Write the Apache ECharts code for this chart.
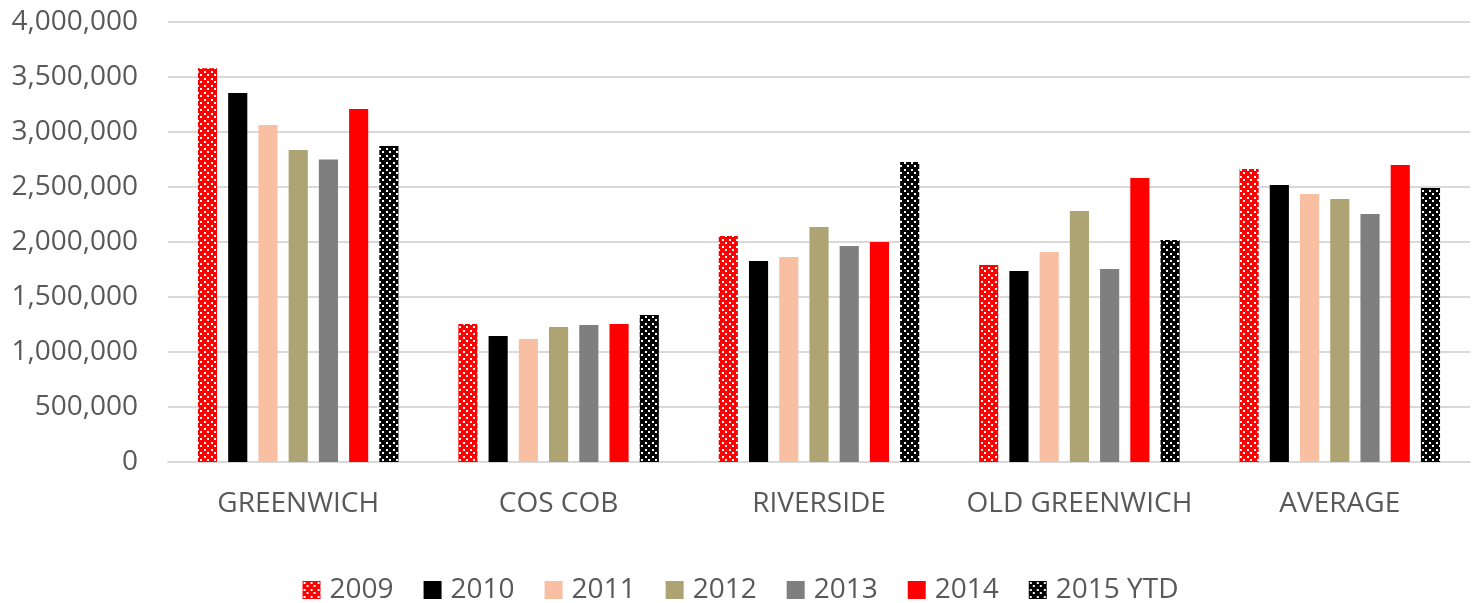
<!DOCTYPE html>
<html>
<head>
<meta charset="utf-8">
<script src="https://cdn.jsdelivr.net/npm/echarts@6/dist/echarts.min.js"></script>
<style>
  html, body { margin: 0; padding: 0; background: #fff; }
  #chart { width: 1481px; height: 603px; }
</style>
</head>
<body>
<div id="chart"></div>
<script>
const categories = ['GREENWICH', 'COS COB', 'RIVERSIDE', 'OLD GREENWICH', 'AVERAGE']
const years = ['2009', '2010', '2011', '2012', '2013', '2014', '2015 YTD']
const values2009 = [3580000, 1255000, 2055000, 1790000, 2664000]
const values2010 = [3355000, 1145000, 1827000, 1736000, 2518000]
const values2011 = [3064000, 1118000, 1864000, 1909000, 2436000]
const values2012 = [2836000, 1227000, 2136000, 2282000, 2391000]
const values2013 = [2750000, 1245000, 1964000, 1755000, 2255000]
const values2014 = [3209000, 1255000, 2000000, 2582000, 2700000]
const values2015 = [2873000, 1336000, 2727000, 2018000, 2490000]

// dotted fill like the Excel pattern
const dotPattern = function (bg) {
  const c = document.createElement('canvas')
  c.width = 7
  c.height = 7
  const ctx = c.getContext('2d')
  ctx.fillStyle = bg
  ctx.fillRect(0, 0, 7, 7)
  ctx.fillStyle = '#ffffff'
  ctx.fillRect(1, 1, 2, 2)
  ctx.fillRect(4, 4, 2, 2)
  return { image: c, repeat: 'repeat' }
}

const colors = [
  dotPattern('#ff0000'),
  '#000000',
  '#f8bfa3',
  '#ada373',
  '#7f7f7f',
  '#ff0000',
  dotPattern('#000000')
]
const seriesData = [values2009, values2010, values2011, values2012, values2013, values2014, values2015]

const textFont = 'Open Sans'
const series = years.map(function (y, i) {
  return {
    name: y,
    type: 'bar',
    barGap: '58%',
    barCategoryGap: '23%',
    itemStyle: { color: colors[i] },
    data: seriesData[i]
  }
})

const chart = echarts.init(document.getElementById('chart'))
chart.setOption({
  animation: false,
  grid: { left: 168, right: 11, top: 22, bottom: 141 },
  legend: {
    top: 576,
    left: 'center',
    padding: 0,
    itemWidth: 18,
    itemHeight: 18,
    itemGap: 30,
    icon: 'rect',
    textStyle: {
      fontFamily: textFont,
      fontSize: 28,
      lineHeight: 22,
      color: '#595959',
      padding: [0, 0, 0, 4]
    },
    data: years
  },
  xAxis: {
    type: 'category',
    data: categories,
    axisLine: { lineStyle: { color: '#d9d9d9', width: 2 } },
    axisTick: { show: false },
    axisLabel: { interval: 0, margin: 28, fontFamily: textFont, fontSize: 28, color: '#595959' }
  },
  yAxis: {
    type: 'value',
    min: 0,
    max: 4000000,
    interval: 500000,
    axisLine: { show: false },
    axisTick: { show: false },
    splitLine: { lineStyle: { color: '#d9d9d9', width: 2 } },
    axisLabel: {
      margin: 30,
      fontFamily: textFont,
      fontSize: 28,
      color: '#595959',
      formatter: function (v) { return v.toLocaleString('en-US') }
    }
  },
  series: series
})
</script>
</body>
</html>
